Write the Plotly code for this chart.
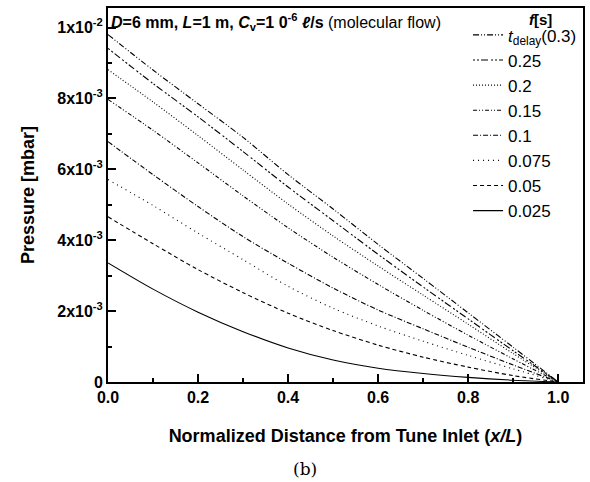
import plotly.graph_objects as go

x_pos = [0.0, 0.1, 0.2, 0.3, 0.4, 0.5, 0.6, 0.7, 0.8, 0.9, 1.0]

p_030 = [9.80, 8.80, 7.85, 6.90, 5.85, 4.88, 3.88, 2.92, 1.95, 0.98, 0.0]
p_025 = [9.41, 8.42, 7.48, 6.50, 5.50, 4.55, 3.60, 2.68, 1.78, 0.88, 0.0]
p_020 = [8.81, 7.90, 6.95, 5.98, 5.02, 4.12, 3.27, 2.45, 1.63, 0.80, 0.0]
p_015 = [7.97, 7.10, 6.18, 5.25, 4.35, 3.52, 2.75, 2.02, 1.32, 0.65, 0.0]
p_010 = [6.78, 5.85, 4.95, 4.10, 3.35, 2.65, 2.03, 1.50, 0.98, 0.48, 0.0]
p_0075 = [5.71, 4.98, 4.20, 3.45, 2.70, 2.08, 1.58, 1.15, 0.75, 0.37, 0.0]
p_005 = [4.66, 3.90, 3.17, 2.52, 1.94, 1.45, 1.04, 0.70, 0.42, 0.18, 0.0]
p_0025 = [3.36, 2.62, 1.97, 1.42, 0.96, 0.62, 0.39, 0.24, 0.13, 0.05, 0.0]

series_labels = ["<i>t</i><sub>delay</sub>(0.3)", "0.25", "0.2", "0.15", "0.1", "0.075", "0.05", "0.025"]
series_values = [p_030, p_025, p_020, p_015, p_010, p_0075, p_005, p_0025]
series_dash = ["6px,2px,1px,2px,1px,2px", "2px,2px,2px,2px,7px,3px", "1px,2px",
               "4px,2px,1px,2px,1px,2px", "5px,2px,1px,2px", "1px,4px", "4px,3px", "solid"]

y_tickvals = [0, 0.002, 0.004, 0.006, 0.008, 0.010]
y_ticktext = ["0", "2x10<sup>-3</sup>", "4x10<sup>-3</sup>", "6x10<sup>-3</sup>",
              "8x10<sup>-3</sup>", "1x10<sup>-2</sup>"]
x_tickvals = [0.0, 0.2, 0.4, 0.6, 0.8, 1.0]
x_ticktext = ["0.0", "0.2", "0.4", "0.6", "0.8", "1.0"]

fig = go.Figure()
for i, (lab, vals, dash) in enumerate(zip(series_labels, series_values, series_dash)):
    fig.add_trace(go.Scatter(
        x=x_pos, y=[v * 1e-3 for v in vals], mode="lines", name=lab,
        legendgroup=f"g{i}",
        line=dict(color="black", width=1.1, dash=dash, shape="spline", smoothing=0.8),
    ))

axis_font = dict(family="Liberation Sans, Arial", size=16, color="black", weight="bold")
title_font = dict(family="Liberation Sans, Arial", size=18, color="black", weight="bold")
fig.update_layout(
    width=590, height=482,
    margin=dict(l=108, r=5, t=8, b=100),
    paper_bgcolor="white", plot_bgcolor="white",
    font=dict(family="Liberation Sans, Arial", color="black"),
    showlegend=True,
    legend=dict(x=0.758, y=0.975, xanchor="left", yanchor="top",
                bgcolor="rgba(0,0,0,0)", borderwidth=0,
                font=dict(family="Liberation Sans, Arial", size=17, color="black"),
                tracegroupgap=0, traceorder="grouped", itemwidth=30),
    xaxis=dict(range=[0, 1.055], tickvals=x_tickvals, ticktext=x_ticktext,
               ticks="inside", ticklen=8, tickwidth=1.5, tickcolor="black",
               minor=dict(ticks="inside", ticklen=4, dtick=0.1, tick0=0, tickcolor="black", tickwidth=1.5),
               showline=True, linecolor="black", linewidth=2, mirror=True,
               showgrid=False, zeroline=False, tickfont=axis_font,
               title=dict(text="Normalized Distance from Tune Inlet (<i>x/L</i>)",
                          font=title_font, standoff=24)),
    yaxis=dict(range=[0, 0.01055], tickvals=y_tickvals, ticktext=y_ticktext,
               ticks="inside", ticklen=8, tickwidth=1.5, tickcolor="black",
               minor=dict(ticks="inside", ticklen=4, dtick=0.001, tick0=0, tickcolor="black", tickwidth=1.5),
               showline=True, linecolor="black", linewidth=2, mirror=True,
               showgrid=False, zeroline=False, tickfont=axis_font,
               title=dict(text="Pressure [mbar]", font=title_font, standoff=18)),
)

fig.add_annotation(
    x=0.003, y=0.998, xref="paper", yref="paper", xanchor="left", yanchor="top", showarrow=False,
    text="<b><i>D</i>=6 mm, <i>L</i>=1 m, <i>C</i><sub>v</sub>=1 0<sup>-6</sup> <i>ℓ</i>/s</b> (molecular flow)",
    font=dict(family="Liberation Sans, Arial", size=16, color="black"),
)
fig.add_annotation(
    x=0.91, y=0.997, xref="paper", yref="paper", xanchor="center", yanchor="top", showarrow=False,
    text="<b><i>f</i>[s]</b>",
    font=dict(family="Liberation Sans, Arial", size=15, color="black"),
)
fig.add_annotation(
    x=0.415, y=-0.2, xref="paper", yref="paper", xanchor="center", yanchor="top", showarrow=False,
    text="(b)",
    font=dict(family="DejaVu Serif, Liberation Serif", size=17, color="black"),
)

fig.write_html("out.html")
